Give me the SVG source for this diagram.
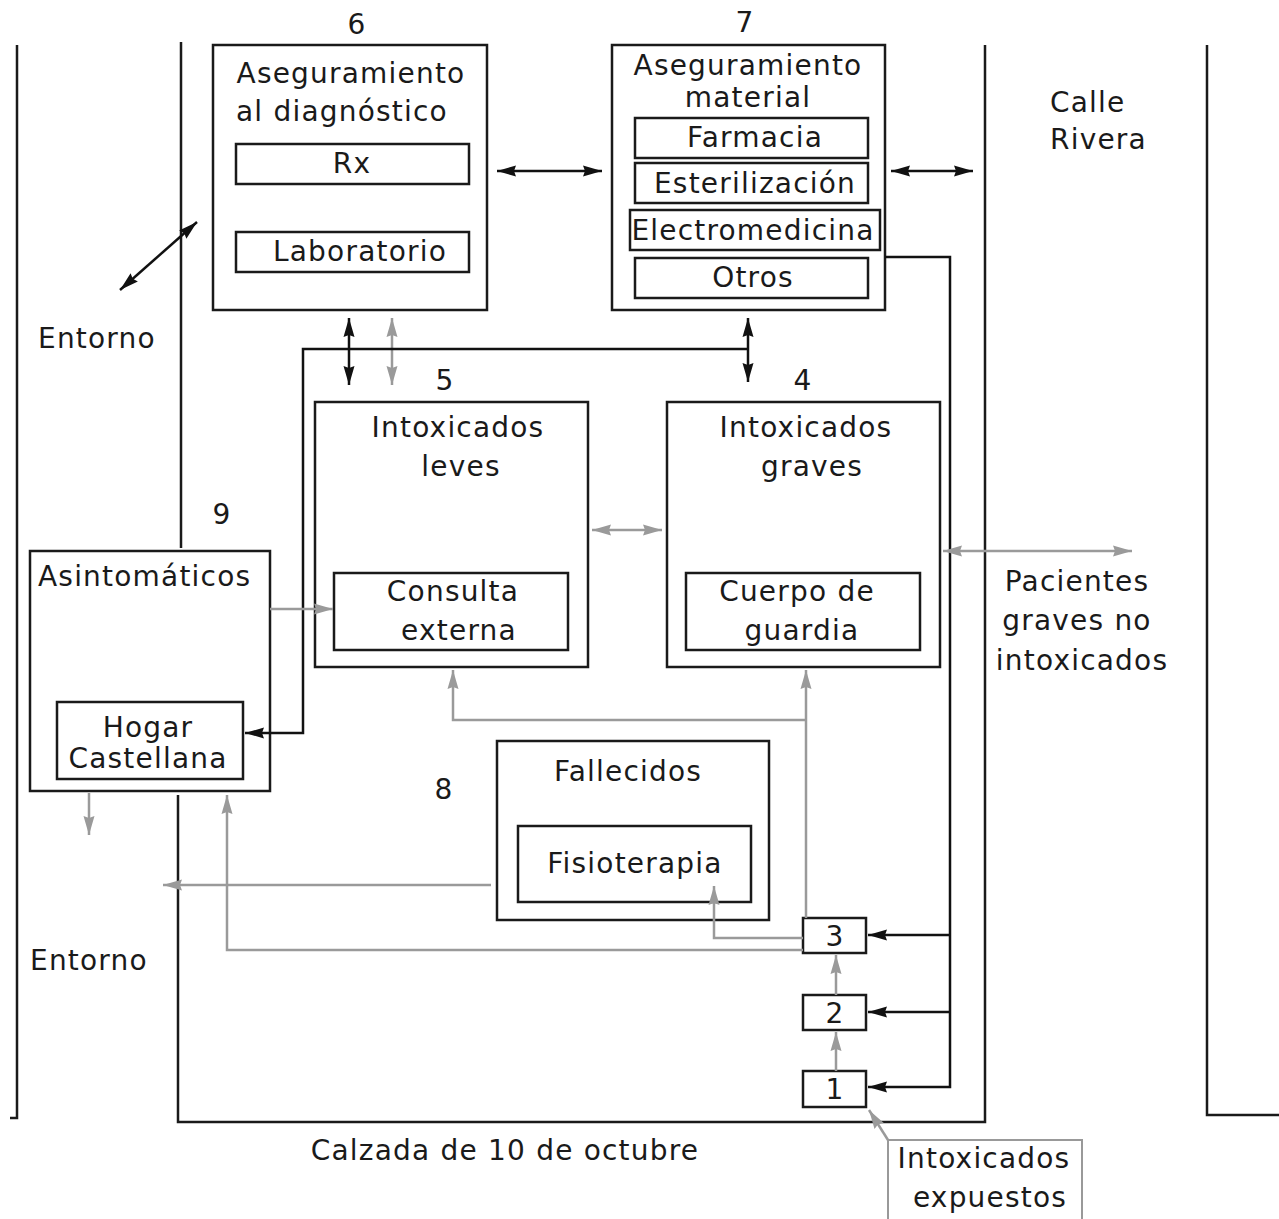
<svg xmlns="http://www.w3.org/2000/svg" width="1279" height="1219" viewBox="0 0 1279 1219">
<style>
text{font-family:"DejaVu Sans","Verdana",sans-serif;font-size:28px;fill:#1a1a1a;letter-spacing:1.2px}
.c{text-anchor:middle}
.box{fill:none;stroke:#1a1a1a;stroke-width:2.5}
.gbox{fill:none;stroke:#999;stroke-width:2}
.wall{fill:none;stroke:#1a1a1a;stroke-width:2.5}
.bk{fill:none;stroke:#111;stroke-width:2.5}
.gr{fill:none;stroke:#9a9a9a;stroke-width:2.5}
</style>
<defs>
<marker id="ab" markerUnits="userSpaceOnUse" markerWidth="20" markerHeight="14" refX="19" refY="7" orient="auto-start-reverse"><path d="M0,1.5 L19,7 L0,12.5 L2,7 z" fill="#111"/></marker>
<marker id="ag" markerUnits="userSpaceOnUse" markerWidth="20" markerHeight="14" refX="19" refY="7" orient="auto-start-reverse"><path d="M0,1.5 L19,7 L0,12.5 L2,7 z" fill="#9a9a9a"/></marker>
</defs>
<g id="walls">
<path class="wall" d="M17,45 V1118 H10"/>
<path class="wall" d="M181,42 V548"/>
<path class="wall" d="M178,795 V1122 H985 V45"/>
<path class="wall" d="M1207,45 V1115 H1279"/>
</g>
<g id="labels">
<text x="1050" y="112">Calle</text>
<text x="1050" y="149">Rivera</text>
<text x="38" y="348">Entorno</text>
<text x="30" y="970">Entorno</text>
<text class="c" x="505" y="1160">Calzada de 10 de octubre</text>
<text class="c" x="1077" y="591">Pacientes</text>
<text class="c" x="1077" y="630">graves no</text>
<text class="c" x="1082" y="670">intoxicados</text>
</g>
<g id="n6">
<text class="c" x="357" y="34">6</text>
<rect class="box" x="213" y="45" width="274" height="265"/>
<text class="c" x="351" y="83">Aseguramiento</text>
<text x="236" y="121">al diagnóstico</text>
<rect class="box" x="236" y="144" width="233" height="40"/>
<text class="c" x="352" y="173">Rx</text>
<rect class="box" x="236" y="232" width="233" height="40"/>
<text class="c" x="360" y="261">Laboratorio</text>
</g>
<g id="n7">
<text class="c" x="745" y="32">7</text>
<rect class="box" x="612" y="45" width="273" height="265"/>
<text class="c" x="748" y="75">Aseguramiento</text>
<text class="c" x="748" y="107">material</text>
<rect class="box" x="635" y="118" width="233" height="40"/>
<text class="c" x="755" y="147">Farmacia</text>
<rect class="box" x="635" y="163" width="233" height="40"/>
<text class="c" x="755" y="193">Esterilización</text>
<rect class="box" x="630" y="210" width="250" height="40"/>
<text class="c" x="753" y="240">Electromedicina</text>
<rect class="box" x="635" y="258" width="233" height="40"/>
<text class="c" x="753" y="287">Otros</text>
</g>
<g id="n5">
<text class="c" x="445" y="390">5</text>
<rect class="box" x="315" y="402" width="273" height="265"/>
<text class="c" x="458" y="437">Intoxicados</text>
<text class="c" x="461" y="476">leves</text>
<rect class="box" x="334" y="573" width="234" height="77"/>
<text class="c" x="453" y="601">Consulta</text>
<text class="c" x="459" y="640">externa</text>
</g>
<g id="n4">
<text class="c" x="803" y="390">4</text>
<rect class="box" x="667" y="402" width="273" height="265"/>
<text class="c" x="806" y="437">Intoxicados</text>
<text class="c" x="812" y="476">graves</text>
<rect class="box" x="686" y="573" width="234" height="77"/>
<text class="c" x="797" y="601">Cuerpo de</text>
<text class="c" x="802" y="640">guardia</text>
</g>
<g id="n9">
<text class="c" x="222" y="524">9</text>
<rect class="box" x="30" y="551" width="240" height="240"/>
<text x="38" y="586">Asintomáticos</text>
<rect class="box" x="57" y="702" width="186" height="77"/>
<text class="c" x="148" y="737">Hogar</text>
<text class="c" x="148" y="768">Castellana</text>
</g>
<g id="n8">
<text class="c" x="444" y="799">8</text>
<rect class="box" x="497" y="741" width="272" height="179"/>
<text class="c" x="628" y="781">Fallecidos</text>
<rect class="box" x="518" y="826" width="233" height="76"/>
<text class="c" x="635" y="873">Fisioterapia</text>
</g>
<g id="n3">
<rect class="box" x="803" y="918" width="63" height="35"/>
<text class="c" x="835" y="946">3</text>
</g>
<g id="n2">
<rect class="box" x="803" y="995" width="63" height="35"/>
<text class="c" x="835" y="1023">2</text>
</g>
<g id="n1">
<rect class="box" x="803" y="1071" width="63" height="36"/>
<text class="c" x="835" y="1099">1</text>
</g>
<g id="nexp">
<rect class="gbox" x="888" y="1140" width="194" height="90"/>
<text class="c" x="984" y="1168">Intoxicados</text>
<text class="c" x="990" y="1207">expuestos</text>
</g>
<g id="connectors">
<line class="bk" x1="497" y1="171" x2="602" y2="171" marker-start="url(#ab)" marker-end="url(#ab)"/>
<line class="bk" x1="891" y1="171" x2="973" y2="171" marker-start="url(#ab)" marker-end="url(#ab)"/>
<line class="bk" x1="120" y1="290" x2="197" y2="222" marker-start="url(#ab)" marker-end="url(#ab)"/>
<line class="bk" x1="349" y1="318" x2="349" y2="385" marker-start="url(#ab)" marker-end="url(#ab)"/>
<line class="gr" x1="392" y1="318" x2="392" y2="385" marker-start="url(#ag)" marker-end="url(#ag)"/>
<line class="bk" x1="748" y1="318" x2="748" y2="382" marker-start="url(#ab)" marker-end="url(#ab)"/>
<polyline class="bk" points="748,349 303,349 303,733 245,733" marker-end="url(#ab)"/>
<polyline class="bk" points="885,257 950,257 950,1087 868,1087" marker-end="url(#ab)"/>
<line class="bk" x1="950" y1="935" x2="868" y2="935" marker-end="url(#ab)"/>
<line class="bk" x1="950" y1="1012" x2="868" y2="1012" marker-end="url(#ab)"/>
<line class="gr" x1="592" y1="530" x2="662" y2="530" marker-start="url(#ag)" marker-end="url(#ag)"/>
<line class="gr" x1="943" y1="551" x2="1132" y2="551" marker-start="url(#ag)" marker-end="url(#ag)"/>
<line class="gr" x1="270" y1="609" x2="333" y2="609" marker-end="url(#ag)"/>
<line class="gr" x1="89" y1="793" x2="89" y2="835" marker-end="url(#ag)"/>
<line class="gr" x1="806" y1="918" x2="806" y2="670" marker-end="url(#ag)"/>
<polyline class="gr" points="806,720 453,720 453,670" marker-end="url(#ag)"/>
<polyline class="gr" points="803,938 714,938 714,886" marker-end="url(#ag)"/>
<polyline class="gr" points="803,950 227,950 227,795" marker-end="url(#ag)"/>
<line class="gr" x1="491" y1="885" x2="163" y2="885" marker-end="url(#ag)"/>
<line class="gr" x1="836" y1="1071" x2="836" y2="1032" marker-end="url(#ag)"/>
<line class="gr" x1="836" y1="995" x2="836" y2="955" marker-end="url(#ag)"/>
<line class="gr" x1="888" y1="1140" x2="869" y2="1110" marker-end="url(#ag)"/>
</g>
</svg>
